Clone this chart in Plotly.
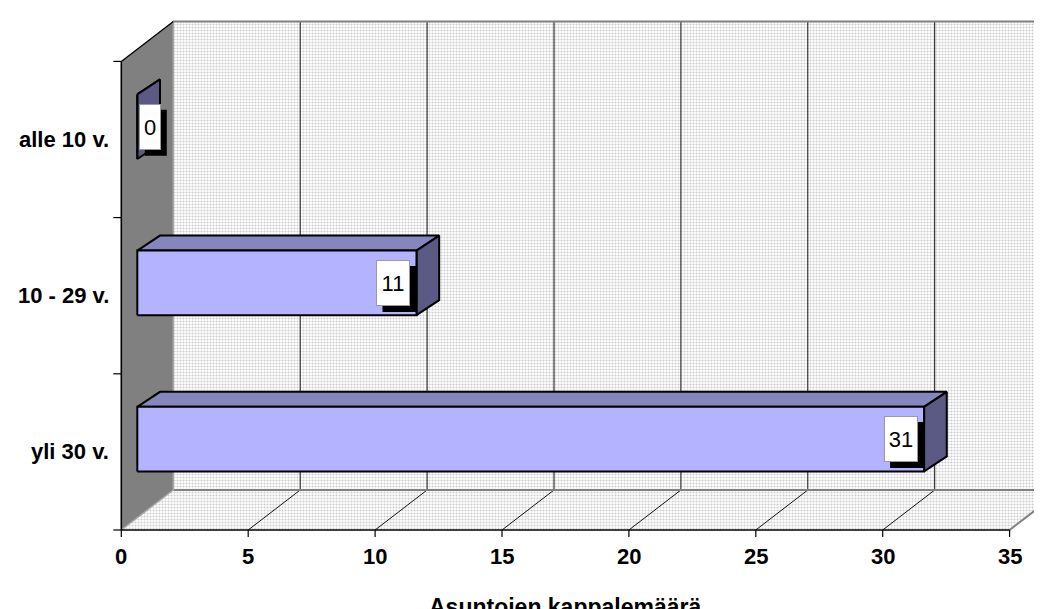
import plotly.graph_objects as go

# ---------------- data ----------------
categories = ["yli 30 v.", "10 - 29 v.", "alle 10 v."]
values = [31, 11, 0]
x_ticks = [0, 5, 10, 15, 20, 25, 30, 35]
x_tick_labels = ["0", "5", "10", "15", "20", "25", "30", "35"]
x_title = "Asuntojen kappalemäärä"

# ---------------- scale set-up (axes span the whole figure) ----------------
W, H = 1042, 609
X0_PX = 113.3   # pixel column of value 0 on the front plane
Y0_PX = 522.0   # pixel row of the front floor edge
XPX = 25.38     # pixels per value unit
YPX = 156.2     # pixels per category band


def ux(px):
    return px / XPX


def uy(px):
    return px / YPX


x_range = [-X0_PX / XPX, (W - X0_PX) / XPX]
y_lo = -0.5
y_hi = y_lo + len(categories)
y_range = [y_lo - (H - Y0_PX) / YPX, y_lo + Y0_PX / YPX]
XMAX = x_ticks[-1]

DEP_X, DEP_Y = ux(52), uy(40)            # depth of the walls
BAR_OFF_X, BAR_OFF_Y = ux(16), uy(12.8)  # bar front face position in depth
BAR_DEP_X, BAR_DEP_Y = ux(22.7), uy(15)  # bar thickness in depth
BAR_HALF = uy(32.3)                      # half height of a bar

FONT = "Liberation Sans, Arial, sans-serif"
PATTERN = dict(shape=".", bgcolor="white", fgcolor="#9a9a9a", size=3, solidity=0.4)

fig = go.Figure()


def poly(xs, ys, fill=None, line_color="rgba(0,0,0,0)", width=0, pattern=None):
    kw = dict(x=list(xs) + [xs[0]], y=list(ys) + [ys[0]], mode="lines",
              line=dict(color=line_color, width=width),
              hoverinfo="skip", showlegend=False)
    if fill is not None or pattern is not None:
        kw["fill"] = "toself"
        kw["fillcolor"] = fill if fill is not None else "white"
    if pattern is not None:
        kw["fillpattern"] = pattern
    fig.add_trace(go.Scatter(**kw))


def lines(segs, color, width):
    xs, ys = [], []
    for (xa, ya, xb, yb) in segs:
        xs += [xa, xb, None]
        ys += [ya, yb, None]
    fig.add_trace(go.Scatter(x=xs, y=ys, mode="lines",
                             line=dict(color=color, width=width),
                             hoverinfo="skip", showlegend=False))


x_far = x_range[1] + 3
# back wall
poly([DEP_X, x_far, x_far, DEP_X],
     [y_lo + DEP_Y, y_lo + DEP_Y, y_hi + DEP_Y, y_hi + DEP_Y], pattern=PATTERN)
# floor
poly([0, XMAX, XMAX + DEP_X, DEP_X],
     [y_lo, y_lo, y_lo + DEP_Y, y_lo + DEP_Y], pattern=PATTERN)
# left wall
poly([0, 0, DEP_X, DEP_X],
     [y_lo, y_hi, y_hi + DEP_Y, y_lo + DEP_Y], fill="#808080")

# gridlines on back wall and floor
lines([(v + DEP_X, y_lo + DEP_Y, v + DEP_X, y_hi + DEP_Y) for v in x_ticks[1:]], "#111111", 1)
lines([(v, y_lo, v + DEP_X, y_lo + DEP_Y) for v in x_ticks[1:-1]], "#111111", 1)

# wall edges
lines([(DEP_X, y_hi + DEP_Y, x_far, y_hi + DEP_Y),
       (DEP_X, y_lo + DEP_Y, x_far, y_lo + DEP_Y),
       (XMAX, y_lo, XMAX + DEP_X, y_lo + DEP_Y)], "#808080", 2)
lines([(0, y_lo, DEP_X, y_lo + DEP_Y),
       (DEP_X, y_lo + DEP_Y, DEP_X, y_hi + DEP_Y)], "#a8a8a8", 1.5)
lines([(0, y_hi, DEP_X, y_hi + DEP_Y)], "#000000", 1.3)

# front axes and ticks
lines([(0, y_lo, XMAX, y_lo), (0, y_lo, 0, y_hi)], "#000000", 1.6)
lines([(v, y_lo, v, y_lo - uy(7)) for v in x_ticks], "#000000", 1.2)
lines([(0, y_lo + k, -ux(8), y_lo + k) for k in range(len(categories) + 1)], "#000000", 1.2)

# bars
for i, v in enumerate(values):
    x0, x1 = BAR_OFF_X, v + BAR_OFF_X
    yc = i + BAR_OFF_Y
    y0, y1 = yc - BAR_HALF, yc + BAR_HALF
    poly([x0, x1, x1 + BAR_DEP_X, x0 + BAR_DEP_X],
         [y1, y1, y1 + BAR_DEP_Y, y1 + BAR_DEP_Y], fill="#8686BE",
         line_color="#000000", width=2)
    poly([x1, x1, x1 + BAR_DEP_X, x1 + BAR_DEP_X],
         [y1, y0, y0 + BAR_DEP_Y, y1 + BAR_DEP_Y], fill="#5A5A84",
         line_color="#000000", width=2)
    poly([x0, x1, x1, x0], [y0, y0, y1, y1], fill="#B3B3FF",
         line_color="#000000", width=2)

annotations = []
shapes = []
BOX_H = 46
SHADOW = 6
# data labels with drop shadow
for i, v in enumerate(values):
    txt = str(v)
    box_w = 10 + 12 * len(txt)
    yc = i + BAR_OFF_Y
    x1 = v + BAR_OFF_X
    if v > 0:
        anchor, shift = "right", -6
        left_px = shift - box_w
    else:
        anchor, shift = "left", 1.5
        left_px = shift
    shapes.append(dict(type="rect", xref="x", yref="y", xsizemode="pixel",
                       ysizemode="pixel", xanchor=x1, yanchor=yc,
                       x0=left_px + SHADOW, x1=left_px + box_w + SHADOW,
                       y0=-BOX_H / 2 - SHADOW, y1=BOX_H / 2 - SHADOW,
                       fillcolor="#000000", line=dict(width=0), layer="above"))
    annotations.append(dict(x=x1, y=yc, xref="x", yref="y", text=txt, showarrow=False,
                            xanchor=anchor, yanchor="middle", xshift=shift,
                            width=box_w - 2, height=BOX_H - 2, borderpad=0,
                            align="center", valign="middle", bgcolor="#FFFFFF",
                            borderwidth=1, bordercolor="#9a9a9a",
                            font=dict(family=FONT, size=22, color="#000000")))

# category labels
for i, c in enumerate(categories):
    annotations.append(dict(x=0, y=i, xref="x", yref="y", text="<b>%s</b>" % c,
                            showarrow=False, xanchor="right", yanchor="middle",
                            xshift=-10, font=dict(family=FONT, size=22, color="#000000")))
# x tick labels
for v, t in zip(x_ticks, x_tick_labels):
    annotations.append(dict(x=v, y=y_lo, xref="x", yref="y", text="<b>%s</b>" % t,
                            showarrow=False, xanchor="center", yanchor="middle",
                            yshift=-26, font=dict(family=FONT, size=22, color="#000000")))
# axis title
annotations.append(dict(x=(x_ticks[0] + x_ticks[-1]) / 2, y=y_lo, xref="x", yref="y",
                        text="<b>%s</b>" % x_title, showarrow=False,
                        xanchor="center", yanchor="middle", yshift=-77,
                        font=dict(family=FONT, size=23, color="#000000")))

fig.update_layout(
    width=W, height=H,
    margin=dict(l=0, r=0, t=0, b=0),
    paper_bgcolor="white", plot_bgcolor="white",
    showlegend=False, hovermode=False,
    xaxis=dict(range=x_range, visible=False, fixedrange=True),
    yaxis=dict(range=y_range, visible=False, fixedrange=True),
    annotations=annotations,
    shapes=shapes,
)

fig.write_html("out.html")
